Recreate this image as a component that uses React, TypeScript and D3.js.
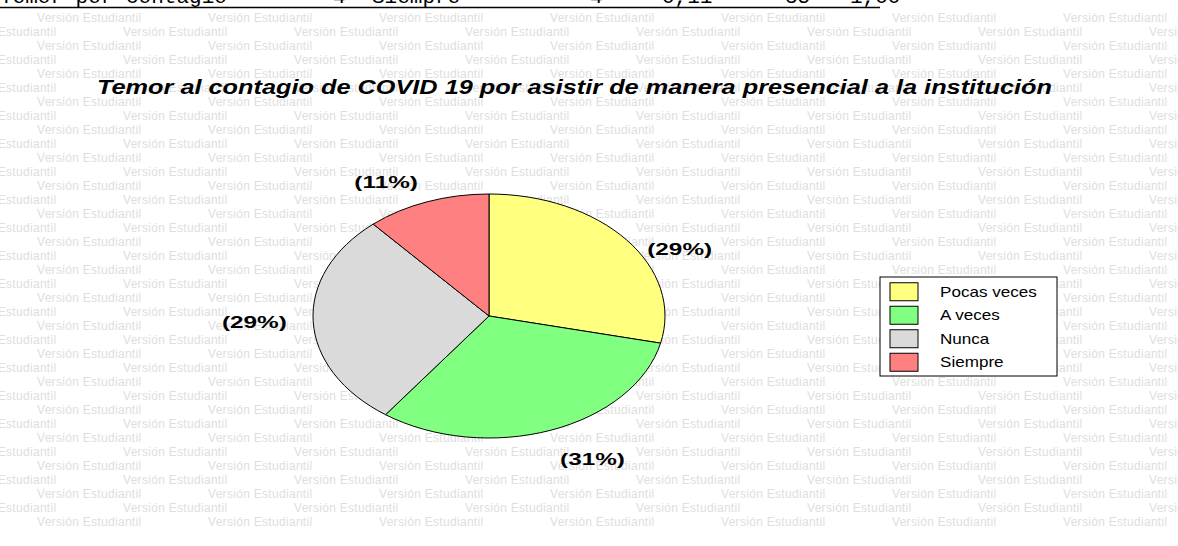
import * as d3 from "d3";

const categories = ["Pocas veces", "A veces", "Nunca", "Siempre"];
const counts = [10, 11, 10, 4];
const colors = ["#ffff80", "#80ff80", "#dadada", "#ff8080"];

const title =
  "Temor al contagio de COVID 19 por asistir de manera presencial a la institución";

// clipped table row left over at the top of the picture
const tableRow = ["Temor por contagio", "4", "Siempre", "4", "0,11", "35", "1,00"];
const tableCols = [0, 333, 372, 590, 662, 785, 850];

const watermark = "Versión Estudiantil";

const width = 1178;
const height = 546;

export default function App() {
  const cx = 489;
  const cy = 316;
  const rx = 176;
  const ry = 122;

  const total = d3.sum(counts);
  const pie = d3
    .pie<number>()
    .sort(null)
    .value((d) => d);
  const arcs = pie(counts);
  const arc = d3.arc<d3.PieArcDatum<number>>().innerRadius(0).outerRadius(ry);

  // watermark rows
  const rows = d3.range(37);
  const period = 171;

  const legendX = 880;
  const legendY = 277;
  const rowY = d3
    .scaleBand<number>()
    .domain(d3.range(categories.length))
    .range([legendY + 3, legendY + 97]);

  return (
    <svg
      width={width}
      height={height}
      viewBox={`0 0 ${width} ${height}`}
      style={{ position: "absolute", left: 0, top: 0, background: "#fff" }}
    >
      <rect width={width} height={height} fill="#fff" />
      <g
        fontFamily="Liberation Sans, Arial, sans-serif"
        fontSize={12}
        letterSpacing={0.3}
        fill="#dedede"
      >
        {rows.map((r) =>
          d3.range(-1, 8).map((k) => (
            <text
              key={`${r}-${k}`}
              x={37 + (r % 2 === 1 ? -85 : 0) + k * period}
              y={22 + r * 14}
            >
              {watermark}
            </text>
          ))
        )}
      </g>

      <g fontFamily="Liberation Mono, Courier New, monospace" fontSize={21} fill="#000">
        {tableRow.map((t, i) => (
          <text key={i} x={tableCols[i]} y={3}>
            {t}
          </text>
        ))}
      </g>
      <line x1={0} x2={880} y1={7.5} y2={7.5} stroke="#000" strokeWidth={1.5} />

      <text
        x={97}
        y={94}
        textLength={955}
        lengthAdjust="spacingAndGlyphs"
        fontFamily="Liberation Sans, Arial, sans-serif"
        fontSize={20}
        fontWeight="bold"
        fontStyle="italic"
        fill="#000"
      >
        {title}
      </text>

      <g transform={`translate(${cx},${cy}) scale(${rx / ry},1)`}>
        {arcs.map((a, i) => (
          <path
            key={i}
            d={arc(a)!}
            fill={colors[i]}
            stroke="#000"
            strokeWidth={1}
            vectorEffect="non-scaling-stroke"
          />
        ))}
      </g>

      <g fontFamily="Liberation Sans, Arial, sans-serif" fontSize={16} fontWeight="bold" fill="#000">
        {arcs.map((a, i) => {
          const mid = (a.startAngle + a.endAngle) / 2;
          const s = Math.sin(mid);
          const c = -Math.cos(mid);
          const x = cx + s * rx * 1.15;
          const y = cy + c * ry * 1.17 + Math.max(s, 0) * 28;
          const anchor = s > 0.2 ? "start" : s < -0.2 ? "end" : "middle";
          const pct = `(${Math.round((a.value / total) * 100)}%)`;
          return (
            <text
              key={i}
              transform={`translate(${x},${y}) scale(1.52,1)`}
              textAnchor={anchor}
              dominantBaseline="central"
            >
              {pct}
            </text>
          );
        })}
      </g>

      <rect
        x={legendX}
        y={legendY}
        width={177}
        height={99}
        fill="#fff"
        stroke="#000"
        strokeWidth={1}
      />
      {categories.map((c, i) => {
        const y0 = rowY(i)!;
        const bh = rowY.bandwidth();
        return (
          <g key={c}>
            <rect
              x={legendX + 10}
              y={y0 + (bh - 18) / 2}
              width={28}
              height={18}
              fill={colors[i]}
              stroke="#000"
              strokeWidth={1}
            />
            <text
              transform={`translate(${legendX + 60},${y0 + bh / 2}) scale(1.22,1)`}
              dominantBaseline="central"
              fontFamily="Liberation Sans, Arial, sans-serif"
              fontSize={14}
              fill="#000"
            >
              {c}
            </text>
          </g>
        );
      })}
    </svg>
  );
}
